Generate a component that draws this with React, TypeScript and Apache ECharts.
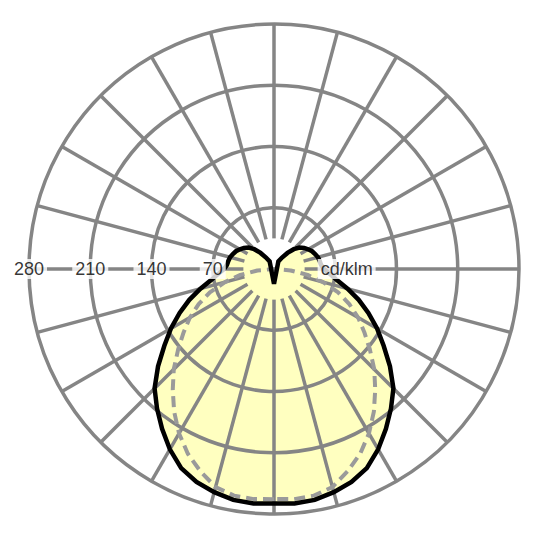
import React, { useEffect, useRef } from "react";
import * as echarts from "echarts";

// gamma angles (0 = nadir, 180 = zenith), C0/C180 plane (solid black)
const gammaC0 = [0, 5, 10, 15, 20, 25, 30, 35, 40, 45, 50, 55, 60, 65, 70, 75, 80, 85, 90, 95, 100, 105, 110, 115, 120, 125, 130, 135, 140, 145, 150];
const intensityC0 = [268, 269, 268, 264, 259, 251, 238, 223, 208, 193, 173, 153, 136, 119, 103, 87, 73, 64, 57, 54, 53, 52, 50, 48, 45, 42, 38, 32, 24, 16, 10];
// the two upper lobes meet in a cusp that dips just below the centre
const cuspTip = [17, 0];

// C90/C270 plane (dashed grey)
const gammaC90 = [0, 5, 10, 15, 20, 25, 30, 35, 40, 45, 50, 55, 60, 65, 70, 75, 80, 85, 90];
const intensityC90 = [263, 264, 263, 258, 246, 233, 217, 199, 180, 162, 143, 126, 111, 95, 78, 58, 39, 19, 0];

// grid
const ringLabels = [70, 140, 210, 280];
const spokeAngles = [0, 15, 30, 45, 60, 75, 90, 105, 120, 135, 150, 165, 180, 195, 210, 225, 240, 255, 270, 285, 300, 315, 330, 345];
const spokeInner = 35;
const unitText = "cd/klm";
const unitRadius = 83;

const GRID = "#858585";
const FILL = "#ffffc0";
const FONT = "'Liberation Sans', Arial, sans-serif";

// left side = gamma, right side = 360 - gamma (mirrored)
const leftHalf = (gammas: number[], values: number[]) => gammas.map((g, i) => [values[i], g]);
const rightHalf = (gammas: number[], values: number[]) =>
  gammas.map((g, i) => [values[i], 360 - g]).reverse();

const App: React.FC = () => {
  const chartRef = useRef<HTMLDivElement | null>(null);

  useEffect(() => {
    if (!chartRef.current) return;
    const chart = echarts.init(chartRef.current, undefined, { renderer: "svg" });

    const curveC0 = [
      ...leftHalf(gammaC0, intensityC0),
      cuspTip,
      ...rightHalf(gammaC0, intensityC0),
    ];
    const curveC90 = [
      ...leftHalf(gammaC90, intensityC90),
      ...rightHalf(gammaC90, intensityC90).slice(1),
    ];

    const option: echarts.EChartsOption = {
      animation: false,
      backgroundColor: "#ffffff",
      polar: { center: [274, 269], radius: 245 },
      angleAxis: {
        type: "value",
        min: 0,
        max: 360,
        startAngle: 270,
        clockwise: true,
        show: false,
      },
      radiusAxis: {
        type: "value",
        min: 0,
        max: 280,
        interval: 70,
        z: 3,
        axisLine: { show: false },
        axisTick: { show: false },
        axisLabel: { show: false },
        splitLine: { show: true, lineStyle: { color: GRID, width: 3.5 } },
      },
      series: [
        {
          // yellow fill under the grid
          type: "line",
          coordinateSystem: "polar",
          data: curveC0,
          symbol: "none",
          silent: true,
          lineStyle: { width: 0, opacity: 0 },
          areaStyle: { color: FILL, opacity: 1 },
          z: 1,
        },
        {
          // radial spokes
          type: "custom",
          coordinateSystem: "polar",
          silent: true,
          z: 3,
          data: spokeAngles.map((a) => [spokeInner, 280, a]),
          renderItem: (_params: any, api: any) => {
            const a = api.value(2);
            const p0 = api.coord([api.value(0), a]);
            const p1 = api.coord([api.value(1), a]);
            return {
              type: "line",
              shape: { x1: p0[0], y1: p0[1], x2: p1[0], y2: p1[1] },
              style: { stroke: GRID, lineWidth: 3.5 },
            };
          },
        },
        {
          type: "line",
          coordinateSystem: "polar",
          data: curveC90,
          symbol: "none",
          silent: true,
          lineStyle: { color: "#9a9a9a", width: 4, type: [11, 6] },
          z: 4,
        },
        {
          type: "line",
          coordinateSystem: "polar",
          data: curveC0,
          symbol: "none",
          silent: true,
          lineStyle: { color: "#000000", width: 4.5, join: "miter", miterLimit: 2 },
          z: 5,
        },
        {
          type: "scatter",
          coordinateSystem: "polar",
          silent: true,
          symbolSize: 1,
          itemStyle: { color: "rgba(0,0,0,0)" },
          z: 6,
          data: [
            ...ringLabels.map((v) => ({ value: [v, 90], name: String(v) })),
            { value: [unitRadius, 270], name: unitText },
          ],
          label: {
            show: true,
            position: "inside",
            formatter: (p: any) => p.name,
            color: "#000000",
            fontSize: 18,
            fontFamily: FONT,
            backgroundColor: "#ffffff",
            padding: [1, 3],
          },
        },
      ],
    };

    chart.setOption(option);
    return () => {
      chart.dispose();
    };
  }, []);

  return (
    <div
      ref={chartRef}
      style={{ position: "fixed", left: 0, top: 0, width: "540px", height: "540px" }}
    />
  );
};

export default App;
